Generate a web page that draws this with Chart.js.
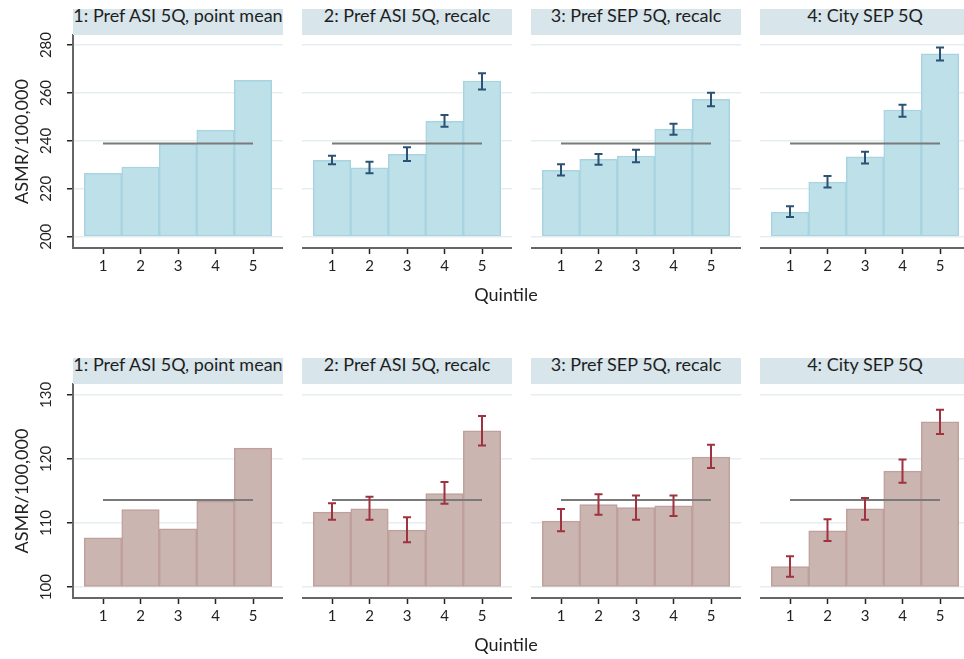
<!DOCTYPE html>
<html>
<head>
<meta charset="utf-8">
<script src="https://cdn.jsdelivr.net/npm/chart.js@4.4.1/dist/chart.umd.min.js"></script>
<style>
  html, body { margin: 0; padding: 0; background: #fff; overflow: hidden; width: 964px; height: 659px; }
  #wrap { position: relative; width: 964px; height: 659px; overflow: hidden; font-family: Lato, sans-serif; color: #1e1e1e; }
  #wrap canvas { position: absolute; }
  .strip { position: absolute; height: 26px; background: #d8e5eb; text-align: center; font-size: 18px; line-height: 20px; white-space: nowrap; overflow: hidden; }
  .strip span { position: relative; top: -4px; }
  .xtitle { position: absolute; width: 200px; text-align: center; font-size: 18px; line-height: 20px; }
</style>
</head>
<body>
<div id="wrap"></div>
<script>
// Quintile categories and facet headings
const quintiles = [1, 2, 3, 4, 5];
const panelTitles = ['1: Pref ASI 5Q, point mean', '2: Pref ASI 5Q, recalc', '3: Pref SEP 5Q, recalc', '4: City SEP 5Q'];
const topTicks = [200, 220, 240, 260, 280];
const bottomTicks = [100, 110, 120, 130];
const topOverall = 238.9;
const bottomOverall = 113.6;

// Upper row: ASMR per quintile with 95% intervals
const topBars1 = [226.5, 229.1, 238.7, 244.5, 265.3];
const topBars2 = [231.9, 228.8, 234.4, 248.2, 265.0];
const topLow2 = [230.3, 226.5, 231.6, 245.9, 261.5];
const topHigh2 = [233.8, 231.3, 237.3, 250.8, 268.2];
const topBars3 = [227.7, 232.3, 233.7, 244.9, 257.3];
const topLow3 = [225.6, 230.0, 231.1, 242.6, 254.5];
const topHigh3 = [230.3, 234.5, 236.3, 247.2, 260.1];
const topBars4 = [210.3, 222.8, 233.3, 252.9, 276.3];
const topLow4 = [208.2, 220.5, 230.6, 250.1, 273.6];
const topHigh4 = [212.7, 225.3, 235.5, 255.1, 279.0];

// Lower row
const bottomBars1 = [107.7, 112.1, 109.1, 113.4, 121.7];
const bottomBars2 = [111.7, 112.2, 108.9, 114.6, 124.4];
const bottomLow2 = [110.5, 110.5, 107.0, 113.0, 122.1];
const bottomHigh2 = [113.1, 114.1, 110.9, 116.4, 126.7];
const bottomBars3 = [110.3, 112.9, 112.4, 112.7, 120.3];
const bottomLow3 = [108.7, 111.3, 110.5, 111.1, 118.6];
const bottomHigh3 = [112.2, 114.5, 114.3, 114.3, 122.2];
const bottomBars4 = [103.2, 108.8, 112.2, 118.1, 125.8];
const bottomLow4 = [101.6, 107.2, 110.5, 116.3, 123.9];
const bottomHigh4 = [104.8, 110.6, 113.9, 119.9, 127.7];

Chart.defaults.font.family = 'Lato, sans-serif';
Chart.defaults.color = '#222';

const rows = [
  {
    plotTop: 35, plotBottom: 248, stripTop: 9, titleTop: 284,
    min: 195.3, max: 284.2, base: 200, ticks: topTicks, overall: topOverall,
    fill: '#bee0e9', edge: '#a8d4e1', errColor: '#2a5275',
    bars: [topBars1, topBars2, topBars3, topBars4],
    low: [null, topLow2, topLow3, topLow4],
    high: [null, topHigh2, topHigh3, topHigh4]
  },
  {
    plotTop: 384, plotBottom: 598, stripTop: 358, titleTop: 634,
    min: 98.3, max: 131.7, base: 100, ticks: bottomTicks, overall: bottomOverall,
    fill: '#cbb5b1', edge: '#bfa09b', errColor: '#a03240',
    bars: [bottomBars1, bottomBars2, bottomBars3, bottomBars4],
    low: [null, bottomLow2, bottomLow3, bottomLow4],
    high: [null, bottomHigh2, bottomHigh3, bottomHigh4]
  }
];

const panelLefts = [73, 302, 531, 760];
const panelWidth = 210;
const yAxisWidth = 73;
const padTop = 20;
const xAxisHeight = 45;

// Confidence-interval whiskers drawn on top of the bars
const errorBars = {
  id: 'errorBars',
  afterDatasetsDraw(chart, args, opts) {
    if (!opts || !opts.low) return;
    const { ctx } = chart;
    const x = chart.scales.x, y = chart.scales.y;
    ctx.save();
    ctx.strokeStyle = opts.color;
    ctx.lineWidth = 2;
    opts.low.forEach((lo, i) => {
      const px = x.getPixelForValue(quintiles[i]);
      const yl = y.getPixelForValue(lo);
      const yh = y.getPixelForValue(opts.high[i]);
      ctx.beginPath();
      ctx.moveTo(px, yl); ctx.lineTo(px, yh);
      ctx.moveTo(px - 4, yl); ctx.lineTo(px + 4, yl);
      ctx.moveTo(px - 4, yh); ctx.lineTo(px + 4, yh);
      ctx.stroke();
    });
    ctx.restore();
  }
};

const wrap = document.getElementById('wrap');

rows.forEach(row => {
  const plotH = row.plotBottom - row.plotTop;
  panelTitles.forEach((title, col) => {
    const first = col === 0;
    const canvas = document.createElement('canvas');
    const cLeft = first ? 0 : panelLefts[col];
    const cWidth = first ? panelLefts[0] + panelWidth : panelWidth;
    const cHeight = padTop + plotH + xAxisHeight;
    canvas.width = cWidth;
    canvas.height = cHeight;
    canvas.style.left = cLeft + 'px';
    canvas.style.top = (row.plotTop - padTop) + 'px';
    canvas.style.width = cWidth + 'px';
    canvas.style.height = cHeight + 'px';
    wrap.appendChild(canvas);

    const strip = document.createElement('div');
    strip.className = 'strip';
    strip.style.left = panelLefts[col] + 'px';
    strip.style.top = row.stripTop + 'px';
    strip.style.width = panelWidth + 'px';
    const span = document.createElement('span');
    span.textContent = title;
    strip.appendChild(span);
    wrap.appendChild(strip);

    new Chart(canvas, {
      type: 'bar',
      data: {
        datasets: [
          {
            type: 'line',
            data: [{ x: quintiles[0], y: row.overall }, { x: quintiles[quintiles.length - 1], y: row.overall }],
            borderColor: '#7a7a7a',
            borderWidth: 2,
            pointRadius: 0,
            fill: false,
            order: 1
          },
          {
            type: 'bar',
            data: row.bars[col].map((v, i) => ({ x: quintiles[i], y: v })),
            base: row.base,
            backgroundColor: row.fill,
            borderColor: row.edge,
            borderWidth: 1.5,
            borderSkipped: false,
            barPercentage: 1,
            categoryPercentage: 1,
            order: 2
          }
        ]
      },
      options: {
        responsive: false,
        animation: false,
        devicePixelRatio: 1,
        layout: { padding: { top: padTop, left: 0, right: 0, bottom: 0 } },
        plugins: {
          legend: { display: false },
          tooltip: { enabled: false },
          errorBars: { low: row.low[col], high: row.high[col], color: row.errColor }
        },
        scales: {
          x: {
            type: 'linear',
            min: 0.2,
            max: 5.8,
            offset: false,
            afterBuildTicks: s => { s.ticks = quintiles.map(v => ({ value: v })); },
            afterFit: s => { s.height = xAxisHeight; },
            grid: { offset: false, drawOnChartArea: false, drawTicks: true, tickLength: 6, tickColor: '#222', tickWidth: 1.5 },
            border: { display: true, color: '#666', width: 2 },
            ticks: { padding: 3, color: '#222', font: { size: 15 }, minRotation: 0, maxRotation: 0, autoSkip: false }
          },
          y: {
            type: 'linear',
            min: row.min,
            max: row.max,
            afterBuildTicks: s => { s.ticks = row.ticks.map(v => ({ value: v })); },
            afterFit: s => { s.width = first ? yAxisWidth : 0; },
            grid: { color: '#e5eef0', lineWidth: 1.5, drawTicks: first, tickLength: 6, tickColor: '#222', tickWidth: 1.5 },
            border: { display: first, color: '#666', width: 2 },
            ticks: { display: first, padding: 8, crossAlign: 'center', minRotation: 90, maxRotation: 90, color: '#222', font: { size: 15 } },
            title: { display: first, text: 'ASMR/100,000', color: '#222', font: { size: 18 }, padding: { top: 11, bottom: 0 } }
          }
        }
      },
      plugins: [errorBars]
    });
  });

  const xt = document.createElement('div');
  xt.className = 'xtitle';
  xt.style.left = '406px';
  xt.style.top = row.titleTop + 'px';
  xt.textContent = 'Quintile';
  wrap.appendChild(xt);
});
</script>
</body>
</html>
